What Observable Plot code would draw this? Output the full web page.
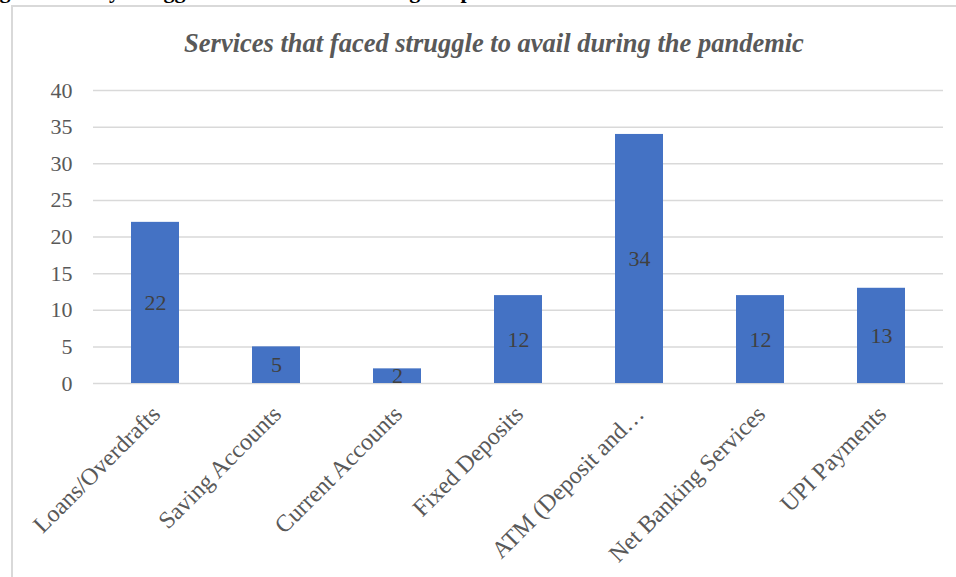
<!DOCTYPE html>
<html>
<head>
<meta charset="utf-8">
<script src="https://cdn.jsdelivr.net/npm/d3@7"></script>
<script src="https://cdn.jsdelivr.net/npm/@observablehq/plot@0.6"></script>
<style>
  html, body { margin: 0; padding: 0; background: #fff; }
  #page { position: relative; width: 956px; height: 577px; overflow: hidden; background: #fff; }
  #caption {
    position: absolute; left: -20px; top: -19px; white-space: nowrap;
    font: bold 22px/20px "Liberation Serif", "Times New Roman", serif; color: #000;
  }
  #frame {
    position: absolute; left: 11px; top: 5px; width: 1000px; height: 700px;
    border: 2px solid #d9d9d9; box-sizing: border-box;
  }
  #title {
    position: absolute; left: 12px; width: 964px; top: 28px; text-align: center;
    font: italic bold 26.5px/30px "Liberation Serif", "Times New Roman", serif; color: #595959;
  }
  #chart { position: absolute; left: 0; top: 0; }
</style>
</head>
<body>
<div id="page">
  <div id="caption">Figure 12: Key struggles faced at banks during the pandemic</div>
  <div id="frame"></div>
  <div id="title">Services that faced struggle to avail during the pandemic</div>
  <div id="chart"></div>
</div>
<script>
// Banking services respondents struggled to use during the pandemic
const categories = [
  "Loans/Overdrafts",
  "Saving Accounts",
  "Current Accounts",
  "Fixed Deposits",
  "ATM (Deposit and…",
  "Net Banking Services",
  "UPI Payments"
];
const counts = [22, 5, 2, 12, 34, 12, 13];
const yTicks = [0, 5, 10, 15, 20, 25, 30, 35, 40];

const data = categories.map((category, i) => ({category, count: counts[i]}));

const serif = "'Liberation Serif', 'Times New Roman', serif";

const chart = Plot.plot({
  width: 956,
  height: 577,
  marginLeft: 93,
  marginRight: 13,
  marginTop: 90,
  marginBottom: 194,
  style: {fontFamily: serif, background: "transparent", overflow: "visible"},
  x: {domain: categories, paddingInner: 0.605, paddingOuter: 0.3025, axis: null},
  y: {domain: [0, 40], axis: null},
  marks: [
    Plot.gridY(yTicks, {stroke: "#d9d9d9", strokeOpacity: 1, strokeWidth: 1.5}),
    Plot.axisY(yTicks, {
      tickSize: 0, tickPadding: 21, fontSize: 22, fill: "#595959",
      label: null, tickFormat: d => String(d)
    }),
    Plot.barY(data, {x: "category", y: "count", fill: "#4472c4"}),
    Plot.text(data, {
      x: "category", y: d => d.count / 2, text: d => String(d.count),
      fontSize: 22, fill: "#404040"
    }),
    Plot.text(data, {
      x: "category", y: () => 0, text: "category",
      rotate: -45, textAnchor: "end", lineAnchor: "top",
      fontSize: 24, fill: "#595959", dx: -6, dy: 20
    })
  ]
});

document.getElementById("chart").appendChild(chart);
</script>
</body>
</html>
